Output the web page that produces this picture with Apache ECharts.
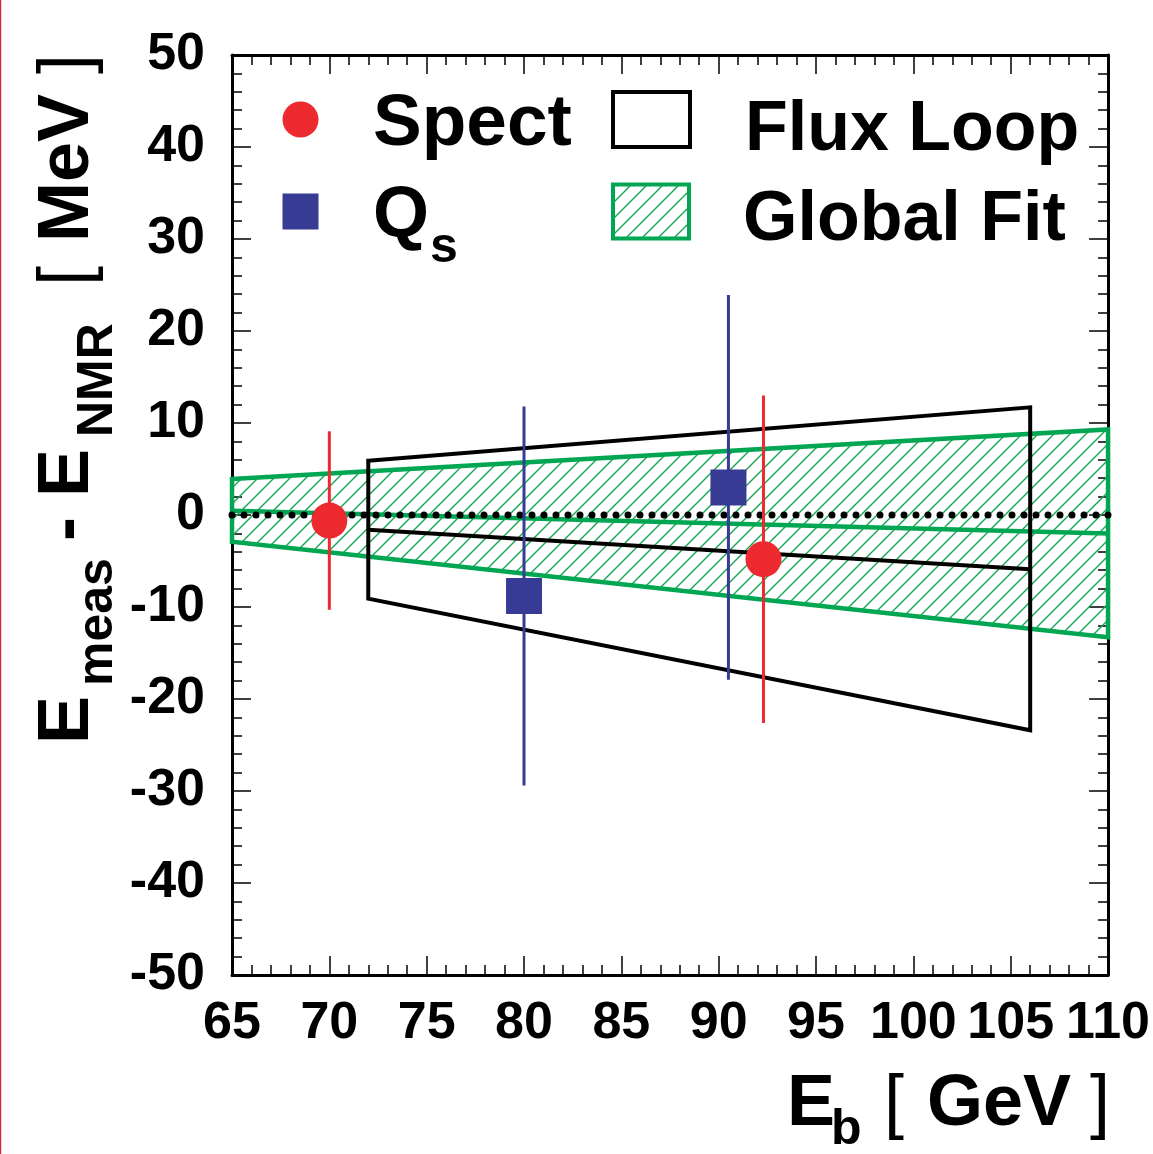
<!DOCTYPE html>
<html>
<head>
<meta charset="utf-8">
<title>Beam energy comparison</title>
<script src="https://cdn.jsdelivr.net/npm/echarts@6/dist/echarts.min.js"></script>
<style>
  html, body { margin: 0; padding: 0; background: #fff; }
  #chart { width: 1153px; height: 1154px; }
</style>
</head>
<body>
<div id="chart"></div>
<script>
// Axis ranges (GeV on x, MeV on y)
const xRange = [65, 110];
const yRange = [-50, 50];
const xStep = 5;
const yStep = 10;

// Spectrometer points: beam energy, offset, error
const spectE = [70.0, 92.3];
const spectVal = [-0.6, -4.8];
const spectErr = [9.7, 17.8];

// Synchrotron tune (Q_s) points
const qsE = [80.0, 90.5];
const qsVal = [-8.8, 3.0];
const qsErr = [20.6, 20.9];

// Flux loop envelope: endpoints with upper, central and lower edge
const fluxE = [72, 106];
const fluxHi = [5.9, 11.7];
const fluxMid = [-1.6, -5.9];
const fluxLo = [-9.1, -23.4];

// Global fit band
const fitE = [65, 110];
const fitHi = [3.9, 9.3];
const fitMid = [0.45, -2.0];
const fitLo = [-2.9, -13.3];

// Colours
const RED = '#ec2a30';
const BLUE = '#373b94';
const GREEN = '#00a651';
const HATCH = '#14a552';
const FONT = '"Liberation Sans", Arial, Helvetica, sans-serif';

// Diagonal hatch tile for the fit band
function hatchPattern() {
  const s = 16;
  const c = document.createElement('canvas');
  c.width = s; c.height = s;
  const g = c.getContext('2d');
  g.strokeStyle = HATCH;
  g.lineWidth = 1.4;
  g.beginPath();
  g.moveTo(0, s); g.lineTo(s, 0);
  g.moveTo(-s / 2, s / 2); g.lineTo(s / 2, -s / 2);
  g.moveTo(s / 2, s * 1.5); g.lineTo(s * 1.5, s / 2);
  g.stroke();
  return { image: c, repeat: 'repeat' };
}
const hatch = hatchPattern();

// Envelope polygon plus its central line
function envelope(E, lo, mid, hi, fill, stroke, width) {
  return function (params, api) {
    if (params.dataIndex !== 0) return null;
    const top = E.map((e, i) => api.coord([e, hi[i]]));
    const bot = E.map((e, i) => api.coord([e, lo[i]])).reverse();
    const centre = E.map((e, i) => api.coord([e, mid[i]]));
    return {
      type: 'group',
      children: [
        { type: 'polygon', shape: { points: top.concat(bot) },
          style: { fill: fill, stroke: stroke, lineWidth: width, lineJoin: 'miter' } },
        { type: 'polyline', shape: { points: centre },
          style: { fill: null, stroke: stroke, lineWidth: width } }
      ]
    };
  };
}

// Vertical error bar without caps
function errorBar(color) {
  return function (params, api) {
    const x = api.value(0), y = api.value(1), e = api.value(2);
    const p1 = api.coord([x, y - e]);
    const p2 = api.coord([x, y + e]);
    return { type: 'line', shape: { x1: p1[0], y1: p1[1], x2: p2[0], y2: p2[1] },
             style: { stroke: color, lineWidth: 3 } };
  };
}

// Text placed by its baseline
function txt(str, x, baseline, size, weight) {
  return { type: 'text', x: x, y: baseline - 0.28 * size,
           style: { text: str, font: (weight || 'bold') + ' ' + size + 'px ' + FONT, fill: '#000',
                    textAlign: 'left', textVerticalAlign: 'middle', verticalAlign: 'middle' } };
}
function onTop(el) { el.z = 10; return el; }

const tickStyle = { show: true, inside: true, length: 19, lineStyle: { color: '#000', width: 1.5 } };
const minorStyle = { show: true, splitNumber: 5, length: 10, lineStyle: { color: '#000', width: 1.5 } };
const lineStyle = { show: true, onZero: false, lineStyle: { color: '#000', width: 3 } };
const labelStyle = { color: '#000', fontFamily: FONT, fontWeight: 'bold', fontSize: 52 };

function xAxis(pos, labels) {
  return { type: 'value', position: pos, min: xRange[0], max: xRange[1], interval: xStep,
           axisLine: lineStyle, axisTick: tickStyle, minorTick: minorStyle,
           splitLine: { show: false }, minorSplitLine: { show: false },
           axisLabel: labels ? Object.assign({ show: true, margin: 23 }, labelStyle) : { show: false } };
}
function yAxis(pos, labels) {
  return { type: 'value', position: pos, min: yRange[0], max: yRange[1], interval: yStep,
           axisLine: lineStyle, axisTick: tickStyle, minorTick: minorStyle,
           splitLine: { show: false }, minorSplitLine: { show: false },
           axisLabel: labels ? Object.assign({ show: true, margin: 27, padding: [7, 0, 0, 0] }, labelStyle)
                             : { show: false } };
}

const chart = echarts.init(document.getElementById('chart'), null, { renderer: 'canvas' });

chart.setOption({
  animation: false,
  backgroundColor: '#fff',
  grid: { left: 232, top: 55, width: 877.5, height: 920, containLabel: false },
  xAxis: [xAxis('bottom', true), xAxis('top', false)],
  yAxis: [yAxis('left', true), yAxis('right', false)],
  series: [
    { name: 'Global Fit', type: 'custom', z: 2, data: [[fitE[0], fitMid[0]]],
      renderItem: envelope(fitE, fitLo, fitMid, fitHi, hatch, GREEN, 4.5) },
    { name: 'Flux Loop', type: 'custom', z: 3, data: [[fluxE[0], fluxMid[0]]],
      renderItem: envelope(fluxE, fluxLo, fluxMid, fluxHi, null, '#000', 4) },
    { name: 'zero', type: 'line', z: 4, symbol: 'none', silent: true,
      data: [[xRange[0], 0], [xRange[1], 0]],
      lineStyle: { color: '#000', width: 7, type: [0, 12], cap: 'round' } },
    { name: 'Spect error', type: 'custom', z: 5,
      data: spectE.map((e, i) => [e, spectVal[i], spectErr[i]]),
      renderItem: errorBar(RED) },
    { name: 'Qs error', type: 'custom', z: 5,
      data: qsE.map((e, i) => [e, qsVal[i], qsErr[i]]),
      renderItem: errorBar(BLUE) },
    { name: 'Spect', type: 'scatter', z: 6, symbol: 'circle', symbolSize: 36,
      itemStyle: { color: RED, opacity: 1 },
      data: spectE.map((e, i) => [e, spectVal[i]]) },
    { name: 'Qs', type: 'scatter', z: 6, symbol: 'rect', symbolSize: 36,
      itemStyle: { color: BLUE, opacity: 1 },
      data: qsE.map((e, i) => [e, qsVal[i]]) }
  ],
  graphic: [
    // thin red rule along the left edge of the page
    { type: 'rect', shape: { x: 0, y: 0, width: 1.2, height: 1154 }, style: { fill: '#d7262e' } },

    // legend: markers
    { type: 'circle', shape: { cx: 300.5, cy: 119.5, r: 18 }, style: { fill: RED }, z: 10 },
    { type: 'rect', shape: { x: 282.5, y: 193.5, width: 36, height: 36 }, style: { fill: BLUE }, z: 10 },
    { type: 'rect', shape: { x: 613, y: 92, width: 77, height: 55 },
      style: { fill: '#fff', stroke: '#000', lineWidth: 4 }, z: 10 },
    { type: 'rect', shape: { x: 613, y: 184.5, width: 76, height: 54 },
      style: { fill: hatch, stroke: GREEN, lineWidth: 4 }, z: 10 },

    // legend: labels
    onTop(txt('Spect', 373, 145, 73)),
    onTop(txt('Q', 373, 237, 72)),
    onTop(txt('s', 430, 262, 50)),
    onTop(txt('Flux Loop', 745, 150, 70)),
    onTop(txt('Global Fit', 743, 240, 70)),

    // x axis title: E_b [ GeV ]
    txt('E', 787, 1125, 72),
    txt('b', 831, 1144, 50),
    txt('[', 884, 1125, 72, 'normal'),
    txt('GeV', 927, 1125, 72),
    txt(']', 1090, 1125, 72, 'normal'),

    // y axis title, read bottom to top: E_meas - E_NMR [ MeV ]
    { type: 'group', x: 88, y: 740, rotation: Math.PI / 2,
      children: [
        txt('E', -4, 0, 72),
        txt('meas', 54, 24, 50),
        txt('-', 199, 0, 72),
        txt('E', 243, 0, 72),
        txt('NMR', 303, 24, 50),
        txt('[', 454, 0, 72, 'normal'),
        txt('MeV', 498, 0, 72),
        txt(']', 666, 0, 72, 'normal')
      ] }
  ]
});
</script>
</body>
</html>
